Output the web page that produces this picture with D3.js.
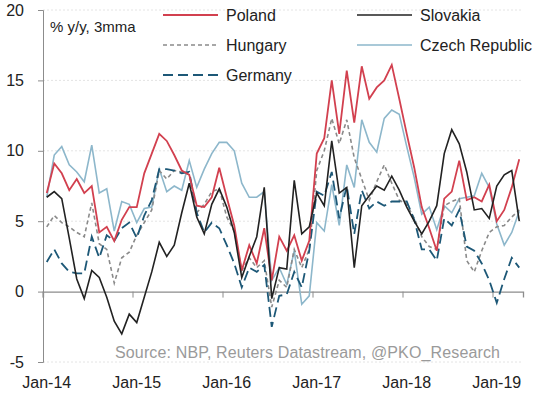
<!DOCTYPE html>
<html>
<head>
<meta charset="utf-8">
<script src="https://cdn.jsdelivr.net/npm/d3@7"></script>
<style>
  body { margin: 0; background: #fff; }
  svg { display: block; font-family: "Liberation Sans", Arial, sans-serif; }
</style>
</head>
<body>
<div id="chart"></div>
<script>
// monthly categories, Jan-14 .. Apr-19
var months = d3.timeMonth.range(new Date(2014, 0, 1), new Date(2019, 4, 1));
var tickLabels = ["Jan-14", "Jan-15", "Jan-16", "Jan-17", "Jan-18", "Jan-19"];
var yTicks = [-5, 0, 5, 10, 15, 20];

var poland = [7.0, 9.1, 8.4, 7.2, 8.0, 7.0, 7.5, 4.2, 4.6, 3.6, 5.1, 6.0,
  6.0, 8.4, 9.8, 11.2, 10.7, 9.7, 8.6, 8.3, 6.1, 6.0, 6.7, 8.8,
  6.7, 4.7, 1.5, 3.3, 2.0, 4.5, 0.8, 3.9, 2.9, 4.0, 2.2, 3.6,
  9.8, 10.9, 15.0, 11.2, 15.7, 12.0, 16.0, 13.7, 14.5, 15.0, 16.1, 13.7,
  11.2, 8.8, 6.0, 4.5, 2.9, 6.6, 7.1, 9.3, 6.5, 6.7, 6.4, 7.6,
  5.0, 5.8, 7.4, 9.4];
var slovakia = [6.7, 7.1, 6.6, 3.8, 0.9, -0.5, 1.5, 1.0, -0.4, -2.1, -3.0, -1.6,
  -2.2, -0.4, 1.4, 3.5, 2.5, 3.3, 5.6, 7.7, 5.3, 4.1, 6.2, 7.3,
  6.0, 4.2, 1.0, 2.5, 3.9, 7.4, -0.5, 1.7, 1.6, 7.9, 4.1, 4.6,
  7.0, 6.1, 10.7, 7.0, 7.4, 1.7, 6.1, 6.8, 7.5, 7.2, 8.2, 7.2,
  6.0, 5.0, 4.1, 5.0, 6.1, 9.8, 11.5, 10.5, 8.5, 5.8, 5.9, 5.2,
  7.5, 8.3, 8.6, 5.0];
var hungary = [4.6, 5.4, 4.9, 4.6, 4.2, 3.9, 6.3, 3.4, 3.0, 0.6, 2.4, 2.8,
  4.0, 4.9, 5.8, 8.6, 8.0, 8.6, 8.5, 8.3, 5.6, 6.2, 7.1, 7.3,
  5.3, 4.3, 1.5, 2.4, 1.7, 2.2, -1.1, 0.8, 0.3, 3.0, 1.7, 3.0,
  8.6, 10.0, 12.3, 10.5, 12.2, 9.5, 8.0, 6.5, 7.8, 9.0, 7.7, 6.5,
  6.2, 5.2, 3.9, 3.2, 3.0, 6.1, 6.4, 6.6, 2.2, 1.4, 2.9, 4.2,
  4.6, 4.7, 5.3, 5.8];
var czech = [6.7, 9.7, 10.3, 9.0, 8.5, 7.8, 10.4, 7.0, 7.3, 4.3, 6.4, 6.2,
  4.9, 5.9, 6.0, 8.7, 7.1, 7.5, 7.2, 9.3, 7.4, 8.7, 9.8, 10.6,
  10.6, 10.0, 7.7, 6.7, 6.7, 7.1, 0.8, 1.7, 0.5, 2.9, -0.9, -0.3,
  4.9, 4.3, 7.6, 4.7, 9.0, 7.4, 12.2, 10.6, 9.9, 12.3, 12.9, 12.6,
  10.3, 8.1, 5.5, 6.0, 4.4, 6.1, 5.6, 6.6, 6.7, 6.8, 8.4, 7.4,
  4.8, 3.3, 4.2, 5.7];
var germany = [2.1, 3.0, 2.0, 1.4, 1.3, 1.3, 3.9, 2.4, 4.0, 3.6, 4.5, 4.9,
  3.8, 5.4, 6.5, 8.7, 8.7, 8.6, 8.4, 8.5, 5.6, 4.2, 4.9, 4.5,
  3.3, 2.0, 0.3, 1.7, 1.4, 1.9, -2.5, -0.3, -0.2, 1.4, 0.3, 2.9,
  7.1, 6.8, 8.5, 5.2, 7.5, 4.1, 7.2, 5.9, 6.4, 6.1, 6.4, 6.4,
  6.4, 5.1, 3.0, 3.0, 2.2, 5.2, 4.7, 5.8, 3.2, 2.9, 2.0, 0.8,
  -0.8, 0.9, 2.4, 1.7];

var series = [
  { name: "Poland", values: poland, color: "#d2404f", dash: null, width: 1.8 },
  { name: "Hungary", values: hungary, color: "#8a8a8a", dash: "4,3", width: 1.6 },
  { name: "Germany", values: germany, color: "#1d5877", dash: "10,5", width: 1.8 },
  { name: "Slovakia", values: slovakia, color: "#222222", dash: null, width: 1.6 },
  { name: "Czech Republic", values: czech, color: "#8db7cb", dash: null, width: 1.6 }
];
// drawing order (back to front)
var drawOrder = ["Czech Republic", "Hungary", "Germany", "Poland", "Slovakia"];

var svg = d3.select("#chart").append("svg")
  .attr("width", 536)
  .attr("height", 397);

var fmt = d3.timeFormat("%b-%y");

var x = d3.scaleBand()
  .domain(months.map(fmt))
  .range([43, 523])
  .padding(0);

var y = d3.scaleLinear().domain([-5, 20]).range([362, 10]);

var xc = function (i) { return x(fmt(months[i])) + x.bandwidth() / 2; };

// faint gridlines
svg.append("g")
  .selectAll("line")
  .data(yTicks.filter(function (d) { return d !== 0; }))
  .enter()
  .append("line")
  .attr("x1", 43)
  .attr("x2", 523)
  .attr("y1", function (d) { return y(d); })
  .attr("y2", function (d) { return y(d); })
  .attr("stroke", "#e4e4e4")
  .attr("stroke-dasharray", "2,2")
  .attr("stroke-width", 1);

// y axis
var yAxis = svg.append("g")
  .attr("transform", "translate(43,0)")
  .call(d3.axisLeft(y)
    .tickValues(yTicks)
    .tickSize(5)
    .tickPadding(14)
    .tickFormat(function (d) { return String(d); }));
yAxis.select(".domain").attr("stroke", "#8c8c8c");
yAxis.selectAll(".tick line").attr("stroke", "#8c8c8c");
yAxis.selectAll(".tick text")
  .attr("font-size", "16px")
  .attr("fill", "#222")
  .attr("font-family", "Liberation Sans, Arial, sans-serif");

// zero line with January ticks
var xAxis = svg.append("g")
  .attr("transform", "translate(0," + y(0) + ")")
  .call(d3.axisBottom(x)
    .tickValues(tickLabels)
    .tickSize(6)
    .tickFormat(""));
xAxis.select(".domain").attr("stroke", "#8c8c8c").attr("stroke-width", 1.3);
// move tick marks to category boundaries
xAxis.selectAll(".tick").attr("transform", function (d) {
  return "translate(" + x(d) + ",0)";
});
xAxis.selectAll(".tick line").attr("stroke", "#8c8c8c");

// bottom labels centred on the January category
svg.append("g")
  .selectAll("text")
  .data(tickLabels)
  .enter()
  .append("text")
  .attr("x", function (d) { return x(d) + x.bandwidth() / 2; })
  .attr("y", 388)
  .attr("text-anchor", "middle")
  .attr("font-size", "16px")
  .attr("fill", "#222")
  .text(function (d) { return d; });

// lines
var line = d3.line()
  .x(function (d, i) { return xc(i); })
  .y(function (d) { return y(d); });

drawOrder.forEach(function (name) {
  var s = series.find(function (d) { return d.name === name; });
  svg.append("path")
    .datum(s.values)
    .attr("fill", "none")
    .attr("stroke", s.color)
    .attr("stroke-width", s.width)
    .attr("stroke-dasharray", s.dash)
    .attr("stroke-linejoin", "miter")
    .attr("d", line);
});

// unit label
svg.append("text")
  .attr("x", 50)
  .attr("y", 32)
  .attr("font-size", "15px")
  .attr("fill", "#222")
  .text("% y/y, 3mma");

// legend
var legendPos = [
  { name: "Poland", x: 163, y: 15 },
  { name: "Hungary", x: 163, y: 45 },
  { name: "Germany", x: 163, y: 75 },
  { name: "Slovakia", x: 357, y: 15 },
  { name: "Czech Republic", x: 357, y: 45 }
];
legendPos.forEach(function (p) {
  var s = series.find(function (d) { return d.name === p.name; });
  svg.append("line")
    .attr("x1", p.x)
    .attr("x2", p.x + 55)
    .attr("y1", p.y)
    .attr("y2", p.y)
    .attr("stroke", s.color)
    .attr("stroke-width", s.width)
    .attr("stroke-dasharray", s.dash);
  svg.append("text")
    .attr("x", p.x + 63)
    .attr("y", p.y + 6)
    .attr("font-size", "16px")
    .attr("fill", "#222")
    .text(p.name);
});

// source
svg.append("text")
  .attr("x", 115)
  .attr("y", 358)
  .attr("font-size", "16px")
  .attr("fill", "#9a9a9a")
  .attr("textLength", 385)
  .text("Source: NBP, Reuters Datastream, @PKO_Research");
</script>
</body>
</html>
